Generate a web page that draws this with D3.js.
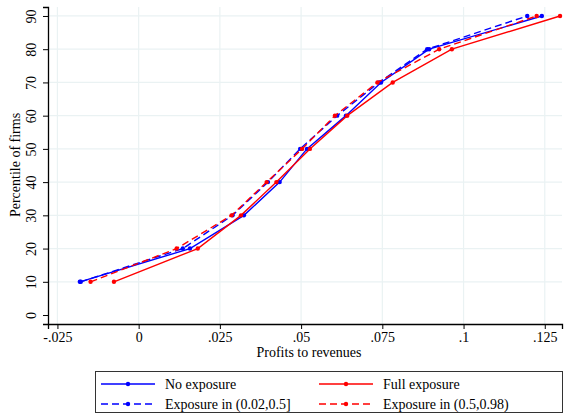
<!DOCTYPE html>
<html>
<head>
<meta charset="utf-8">
<script src="https://cdn.jsdelivr.net/npm/d3@7"></script>
<style>
  body { margin: 0; background: #fff; }
  svg text { font-family: "Liberation Serif", "Times New Roman", serif; fill: #000; }
</style>
</head>
<body>
<div id="chart"></div>
<script>
// percentiles (y) shared by all series
var percentiles = [10, 20, 30, 40, 50, 60, 70, 80, 90];

// profits to revenues at each percentile
var noExposure   = [-0.0181, 0.0158, 0.0324, 0.0434, 0.0518, 0.0638, 0.0746, 0.0894, 0.1241];
var expLow       = [-0.0178, 0.0136, 0.0289, 0.0398, 0.0497, 0.0611, 0.0740, 0.0888, 0.1196];
var fullExposure = [-0.0076, 0.0182, 0.0315, 0.0424, 0.0527, 0.0642, 0.0782, 0.0964, 0.1297];
var expHigh      = [-0.0148, 0.0117, 0.0286, 0.0394, 0.0503, 0.0604, 0.0735, 0.0925, 0.1225];

var xTicks = [-0.025, 0, 0.025, 0.05, 0.075, 0.1, 0.125];
var xTickLabels = ["-.025", "0", ".025", ".05", ".075", ".1", ".125"];
var yTicks = [0, 10, 20, 30, 40, 50, 60, 70, 80, 90];

var series = [
  { name: "No exposure", values: noExposure, color: "#0000ff", dash: null },
  { name: "Exposure in (0.02,0.5]", values: expLow, color: "#0000ff", dash: "7,4" },
  { name: "Full exposure", values: fullExposure, color: "#ff0000", dash: null },
  { name: "Exposure in (0.5,0.98)", values: expHigh, color: "#ff0000", dash: "7,4" }
];

var W = 566, H = 415;
var margin = { top: 7, right: 4, bottom: 91, left: 48 };
var width = W - margin.left - margin.right;
var height = H - margin.top - margin.bottom;

var svg = d3.select("#chart").append("svg")
  .attr("width", W).attr("height", H);

var g = svg.append("g")
  .attr("transform", "translate(" + margin.left + "," + margin.top + ")");

var x = d3.scaleLinear().domain([-0.0279, 0.1303]).range([0, width]);
var y = d3.scaleLinear().domain([-2.7, 92.7]).range([height, 0]);

// grid
g.selectAll(".vgrid").data(xTicks).enter().append("line")
  .attr("x1", d => x(d)).attr("x2", d => x(d))
  .attr("y1", 0).attr("y2", height)
  .attr("stroke", "#eaf2f3").attr("stroke-width", 1.2);
g.selectAll(".hgrid").data(yTicks.filter(d => d > 0)).enter().append("line")
  .attr("x1", 0).attr("x2", width)
  .attr("y1", d => y(d)).attr("y2", d => y(d))
  .attr("stroke", "#eaf2f3").attr("stroke-width", 1.2);

// axes
var xAxis = d3.axisBottom(x).tickValues(xTicks)
  .tickFormat((d, i) => xTickLabels[i]).tickSizeOuter(0).tickSize(5).tickPadding(3);
var gx = g.append("g").attr("transform", "translate(0," + height + ")").call(xAxis);
gx.selectAll("text").style("font-size", "14px");

var yAxis = d3.axisLeft(y).tickValues(yTicks).tickSizeOuter(0).tickSize(5);
var gy = g.append("g").call(yAxis);
// vertical tick labels, Stata style
gy.selectAll("text")
  .style("font-size", "14px")
  .attr("x", 0).attr("y", 0).attr("dy", 0)
  .attr("text-anchor", "middle")
  .attr("transform", "translate(-12,0) rotate(-90)");

[gx, gy].forEach(function (a) {
  a.select(".domain").attr("stroke", "#000").attr("stroke-width", 1.3);
  a.selectAll(".tick line").attr("stroke", "#000").attr("stroke-width", 1);
});

// axis titles
svg.append("text")
  .attr("x", margin.left + width / 2 + 4).attr("y", 357)
  .attr("text-anchor", "middle").style("font-size", "14px")
  .text("Profits to revenues");
svg.append("text")
  .attr("transform", "translate(20," + (margin.top + 158) + ") rotate(-90)")
  .attr("text-anchor", "middle").style("font-size", "14px")
  .text("Percentile of firms");

// lines
var line = d3.line()
  .x(d => x(d[0]))
  .y(d => y(d[1]));

series.forEach(function (s) {
  var pts = s.values.map((v, i) => [v, percentiles[i]]);
  g.append("path")
    .datum(pts)
    .attr("fill", "none")
    .attr("stroke", s.color)
    .attr("stroke-width", 1.4)
    .attr("stroke-dasharray", s.dash)
    .attr("d", line);
  g.selectAll(null).data(pts).enter().append("circle")
    .attr("cx", d => x(d[0])).attr("cy", d => y(d[1]))
    .attr("r", 2.2).attr("fill", s.color);
});

// legend
var legend = svg.append("g");
legend.append("rect")
  .attr("x", 95.5).attr("y", 371.5).attr("width", 467).attr("height", 41)
  .attr("fill", "#fff").attr("stroke", "#333").attr("stroke-width", 1);

var legendPos = [
  { s: series[0], lx: 101, ly: 384 },
  { s: series[2], lx: 319, ly: 384 },
  { s: series[1], lx: 101, ly: 404 },
  { s: series[3], lx: 319, ly: 404 }
];
legendPos.forEach(function (p) {
  legend.append("line")
    .attr("x1", p.lx).attr("x2", p.lx + 54)
    .attr("y1", p.ly).attr("y2", p.ly)
    .attr("stroke", p.s.color).attr("stroke-width", 1.4)
    .attr("stroke-dasharray", p.s.dash);
  legend.append("circle")
    .attr("cx", p.lx + 27).attr("cy", p.ly).attr("r", 2.2)
    .attr("fill", p.s.color);
  legend.append("text")
    .attr("x", p.lx + 64).attr("y", p.ly + 5)
    .style("font-size", "14px")
    .text(p.s.name);
});
</script>
</body>
</html>
